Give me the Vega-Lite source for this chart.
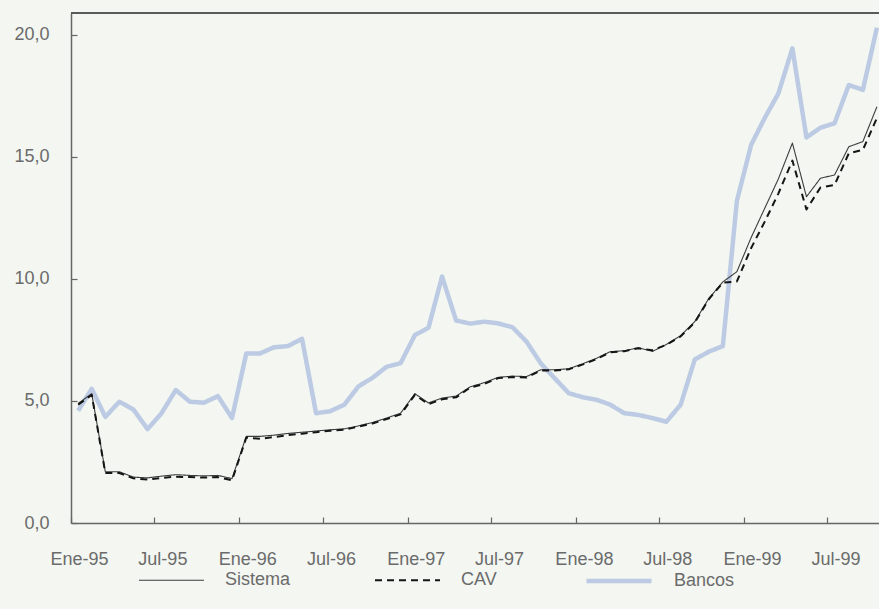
{
  "$schema": "https://vega.github.io/schema/vega-lite/v6.json",
  "width": 808,
  "height": 510,
  "autosize": {"type": "none"},
  "padding": {"left": 71, "top": 13, "right": 0, "bottom": 86},
  "background": "#f3f6f1",
  "config": {
    "view": {"stroke": null},
    "font": "Liberation Sans",
    "axis": {"labelFont": "Liberation Sans", "labelFontSize": 18, "labelColor": "#6b6b6b", "domainColor": "#666666", "domainWidth": 1.5, "tickColor": "#666666", "tickWidth": 1.2, "grid": false, "title": null}
  },
  "data": {
    "values": [
      {"mes": "1995-01", "Bancos": 4.6, "Sistema": 4.9, "CAV": 4.85},
      {"mes": "1995-02", "Bancos": 5.5, "Sistema": 5.3, "CAV": 5.25},
      {"mes": "1995-03", "Bancos": 4.35, "Sistema": 2.1, "CAV": 2.05},
      {"mes": "1995-04", "Bancos": 4.97, "Sistema": 2.1, "CAV": 2.05},
      {"mes": "1995-05", "Bancos": 4.65, "Sistema": 1.88, "CAV": 1.83},
      {"mes": "1995-06", "Bancos": 3.85, "Sistema": 1.85, "CAV": 1.78},
      {"mes": "1995-07", "Bancos": 4.5, "Sistema": 1.92, "CAV": 1.85},
      {"mes": "1995-08", "Bancos": 5.45, "Sistema": 1.98, "CAV": 1.9},
      {"mes": "1995-09", "Bancos": 4.97, "Sistema": 1.95, "CAV": 1.88},
      {"mes": "1995-10", "Bancos": 4.93, "Sistema": 1.93, "CAV": 1.86},
      {"mes": "1995-11", "Bancos": 5.2, "Sistema": 1.95, "CAV": 1.88},
      {"mes": "1995-12", "Bancos": 4.3, "Sistema": 1.82, "CAV": 1.75},
      {"mes": "1996-01", "Bancos": 6.95, "Sistema": 3.55, "CAV": 3.5},
      {"mes": "1996-02", "Bancos": 6.95, "Sistema": 3.55, "CAV": 3.45},
      {"mes": "1996-03", "Bancos": 7.2, "Sistema": 3.6, "CAV": 3.52},
      {"mes": "1996-04", "Bancos": 7.25, "Sistema": 3.67, "CAV": 3.6},
      {"mes": "1996-05", "Bancos": 7.55, "Sistema": 3.72, "CAV": 3.66},
      {"mes": "1996-06", "Bancos": 4.5, "Sistema": 3.77, "CAV": 3.72},
      {"mes": "1996-07", "Bancos": 4.58, "Sistema": 3.82, "CAV": 3.78},
      {"mes": "1996-08", "Bancos": 4.85, "Sistema": 3.86, "CAV": 3.82},
      {"mes": "1996-09", "Bancos": 5.6, "Sistema": 3.98, "CAV": 3.95},
      {"mes": "1996-10", "Bancos": 5.95, "Sistema": 4.12, "CAV": 4.08},
      {"mes": "1996-11", "Bancos": 6.4, "Sistema": 4.3, "CAV": 4.26},
      {"mes": "1996-12", "Bancos": 6.55, "Sistema": 4.5, "CAV": 4.45},
      {"mes": "1997-01", "Bancos": 7.7, "Sistema": 5.3, "CAV": 5.25},
      {"mes": "1997-02", "Bancos": 8.0, "Sistema": 4.92, "CAV": 4.87},
      {"mes": "1997-03", "Bancos": 10.1, "Sistema": 5.12, "CAV": 5.07},
      {"mes": "1997-04", "Bancos": 8.3, "Sistema": 5.2, "CAV": 5.15},
      {"mes": "1997-05", "Bancos": 8.17, "Sistema": 5.58, "CAV": 5.55},
      {"mes": "1997-06", "Bancos": 8.25, "Sistema": 5.75, "CAV": 5.7},
      {"mes": "1997-07", "Bancos": 8.18, "Sistema": 5.97, "CAV": 5.94},
      {"mes": "1997-08", "Bancos": 8.02, "Sistema": 6.02, "CAV": 5.98},
      {"mes": "1997-09", "Bancos": 7.43, "Sistema": 6.0, "CAV": 5.96},
      {"mes": "1997-10", "Bancos": 6.55, "Sistema": 6.28, "CAV": 6.25},
      {"mes": "1997-11", "Bancos": 5.93, "Sistema": 6.28, "CAV": 6.25},
      {"mes": "1997-12", "Bancos": 5.32, "Sistema": 6.32, "CAV": 6.3},
      {"mes": "1998-01", "Bancos": 5.15, "Sistema": 6.53, "CAV": 6.5},
      {"mes": "1998-02", "Bancos": 5.05, "Sistema": 6.75, "CAV": 6.72},
      {"mes": "1998-03", "Bancos": 4.85, "Sistema": 7.02, "CAV": 7.0},
      {"mes": "1998-04", "Bancos": 4.5, "Sistema": 7.06, "CAV": 7.04},
      {"mes": "1998-05", "Bancos": 4.43, "Sistema": 7.18, "CAV": 7.16},
      {"mes": "1998-06", "Bancos": 4.3, "Sistema": 7.03, "CAV": 7.08},
      {"mes": "1998-07", "Bancos": 4.15, "Sistema": 7.32, "CAV": 7.3},
      {"mes": "1998-08", "Bancos": 4.85, "Sistema": 7.68, "CAV": 7.65},
      {"mes": "1998-09", "Bancos": 6.7, "Sistema": 8.25, "CAV": 8.22},
      {"mes": "1998-10", "Bancos": 7.02, "Sistema": 9.2, "CAV": 9.17},
      {"mes": "1998-11", "Bancos": 7.25, "Sistema": 9.88, "CAV": 9.85},
      {"mes": "1998-12", "Bancos": 13.2, "Sistema": 10.3, "CAV": 9.9},
      {"mes": "1999-01", "Bancos": 15.5, "Sistema": 11.7, "CAV": 11.27},
      {"mes": "1999-02", "Bancos": 16.6, "Sistema": 12.9, "CAV": 12.35},
      {"mes": "1999-03", "Bancos": 17.6, "Sistema": 14.1, "CAV": 13.5},
      {"mes": "1999-04", "Bancos": 19.45, "Sistema": 15.57, "CAV": 14.85},
      {"mes": "1999-05", "Bancos": 15.8, "Sistema": 13.37, "CAV": 12.85},
      {"mes": "1999-06", "Bancos": 16.2, "Sistema": 14.13, "CAV": 13.75},
      {"mes": "1999-07", "Bancos": 16.38, "Sistema": 14.26, "CAV": 13.85},
      {"mes": "1999-08", "Bancos": 17.95, "Sistema": 15.42, "CAV": 15.15},
      {"mes": "1999-09", "Bancos": 17.75, "Sistema": 15.63, "CAV": 15.29},
      {"mes": "1999-10", "Bancos": 20.3, "Sistema": 17.06, "CAV": 16.6}
    ]
  },
  "layer": [
    {
      "mark": {"type": "rule", "color": "#5a5a5a", "strokeWidth": 2},
      "encoding": {"y": {"datum": 20.9, "type": "quantitative"}}
    },
    {
      "transform": [{"fold": ["Bancos", "Sistema", "CAV"], "as": ["serie", "valor"]}],
      "mark": {"type": "line", "strokeJoin": "round"},
      "encoding": {
        "x": {
          "field": "mes", "timeUnit": "utcyearmonth", "type": "temporal", "bandPosition": 0.5,
          "scale": {"type": "utc", "domain": [{"year": 1995, "month": 1, "date": 1, "utc": true}, {"year": 1999, "month": 10, "date": 21, "utc": true}]},
          "axis": {
            "values": [
              {"year": 1995, "month": 1, "date": 1, "utc": true}, {"year": 1995, "month": 7, "date": 1, "utc": true},
              {"year": 1996, "month": 1, "date": 1, "utc": true}, {"year": 1996, "month": 7, "date": 1, "utc": true},
              {"year": 1997, "month": 1, "date": 1, "utc": true}, {"year": 1997, "month": 7, "date": 1, "utc": true},
              {"year": 1998, "month": 1, "date": 1, "utc": true}, {"year": 1998, "month": 7, "date": 1, "utc": true},
              {"year": 1999, "month": 1, "date": 1, "utc": true}, {"year": 1999, "month": 7, "date": 1, "utc": true}
            ],
            "labelExpr": "(utcmonth(datum.value) == 0 ? 'Ene-' : 'Jul-') + utcFormat(datum.value, '%y')",
            "tickSize": -6,
            "labelPadding": 33,
            "labelOffset": 8,
            "labelFlush": false,
            "labelOverlap": false
          }
        },
        "y": {
          "field": "valor", "type": "quantitative",
          "scale": {"domain": [0, 20.9], "nice": false},
          "axis": {
            "values": [0, 5, 10, 15, 20],
            "labelExpr": "replace(format(datum.value, '.1f'), '.', ',')",
            "tickSize": -6,
            "labelPadding": 28
          }
        },
        "color": {
          "field": "serie", "type": "nominal",
          "scale": {"domain": ["Sistema", "CAV", "Bancos"], "range": ["#3c3c3c", "#151515", "#bccbe3"]},
          "legend": {
            "orient": "none", "legendX": 67, "legendY": 533, "direction": "horizontal",
            "title": null, "symbolType": "stroke", "symbolSize": 4225, "labelOffset": 20,
            "columnPadding": 80, "padding": 0, "labelFontSize": 18, "labelColor": "#6b6b6b",
            "labelFont": "Liberation Sans"
          }
        },
        "strokeDash": {
          "field": "serie", "type": "nominal",
          "scale": {"domain": ["Sistema", "CAV", "Bancos"], "range": [[1, 0], [7, 5], [1, 0]]}
        },
        "strokeWidth": {
          "field": "serie", "type": "ordinal", "sort": ["Sistema", "CAV", "Bancos"],
          "scale": {"type": "ordinal", "domain": ["Sistema", "CAV", "Bancos"], "range": [1.1, 2, 4.5]}
        }
      }
    }
  ]
}
